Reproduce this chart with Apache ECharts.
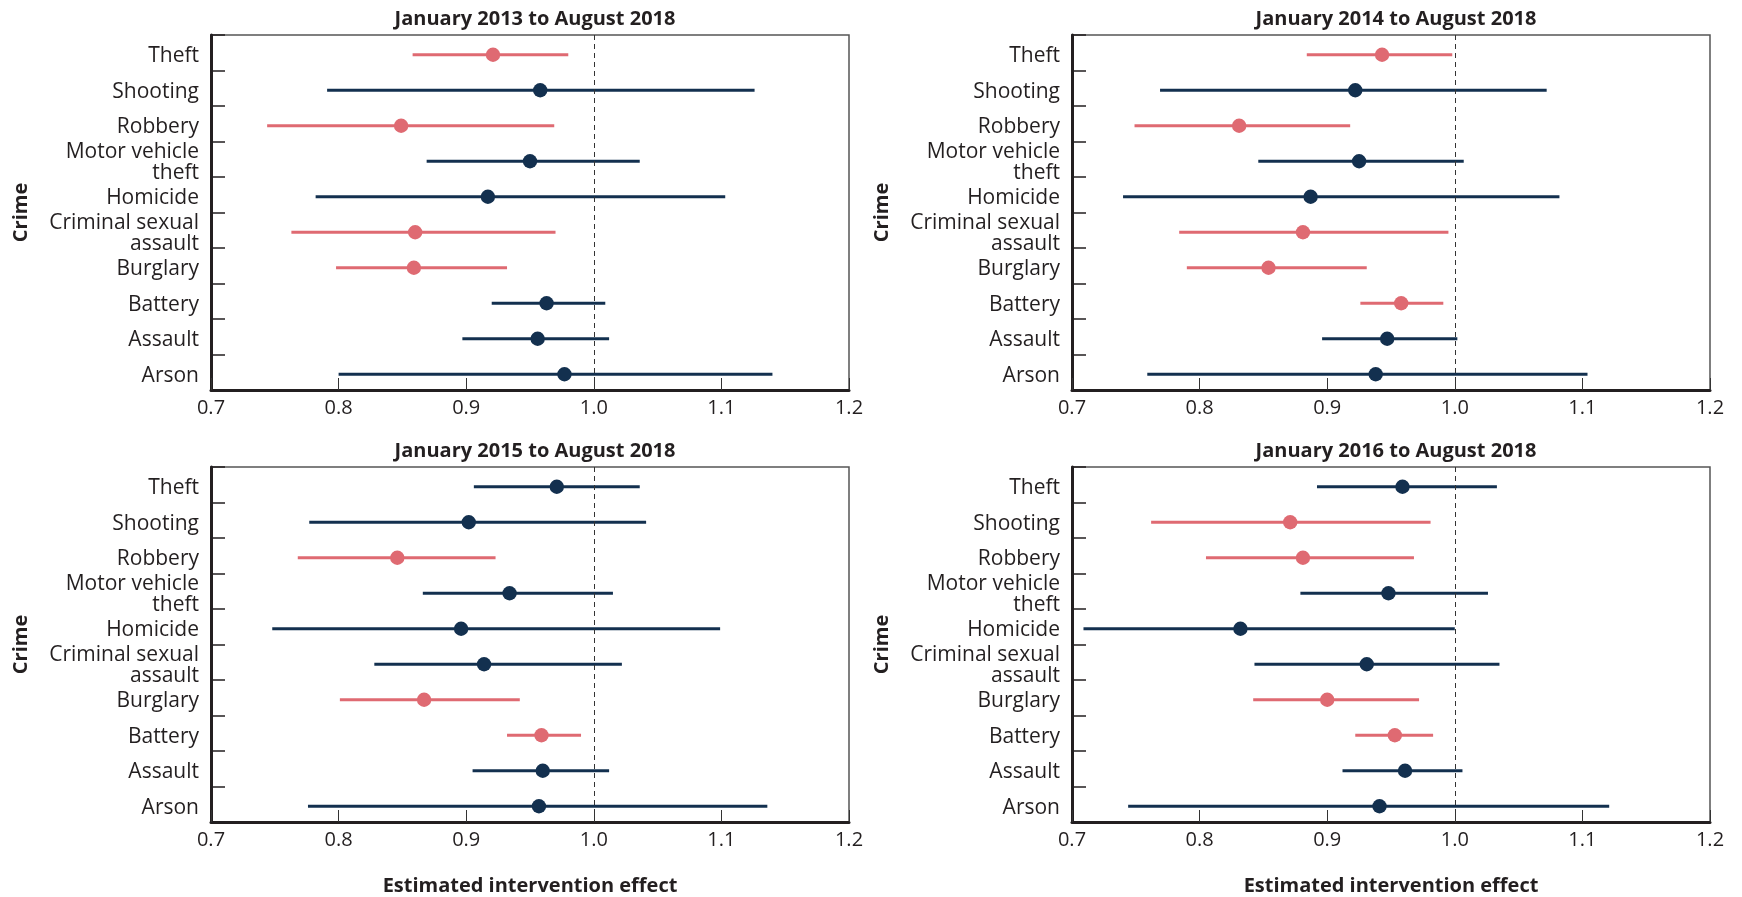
<!DOCTYPE html>
<html>
<head>
<meta charset="utf-8">
<script src="https://cdn.jsdelivr.net/npm/echarts@6/dist/echarts.min.js"></script>
<style>
html,body{margin:0;padding:0;background:#fff;}
#chart{width:1742px;height:897px;}
</style>
</head>
<body>
<div id="chart"></div>
<script>
// ---- Data ----
const categories = ['Theft','Shooting','Robbery','Motor vehicle\ntheft','Homicide','Criminal sexual\nassault','Burglary','Battery','Assault','Arson'];
const panelTitles = ['January 2013 to August 2018','January 2014 to August 2018','January 2015 to August 2018','January 2016 to August 2018'];
const xTicks = [0.7, 0.8, 0.9, 1.0, 1.1, 1.2];

const est2013  = [0.921, 0.958, 0.849, 0.950, 0.917, 0.860, 0.859, 0.963, 0.956, 0.977];
const low2013  = [0.858, 0.791, 0.744, 0.869, 0.782, 0.763, 0.798, 0.920, 0.897, 0.800];
const high2013 = [0.980, 1.126, 0.969, 1.036, 1.103, 0.970, 0.932, 1.009, 1.012, 1.140];
const sig2013  = [1, 0, 1, 0, 0, 1, 1, 0, 0, 0];

const est2014  = [0.943, 0.922, 0.831, 0.925, 0.887, 0.881, 0.854, 0.958, 0.947, 0.938];
const low2014  = [0.884, 0.769, 0.749, 0.846, 0.740, 0.784, 0.790, 0.926, 0.896, 0.759];
const high2014 = [0.998, 1.072, 0.918, 1.007, 1.082, 0.995, 0.931, 0.991, 1.002, 1.104];
const sig2014  = [1, 0, 1, 0, 0, 1, 1, 1, 0, 0];

const est2015  = [0.971, 0.902, 0.846, 0.934, 0.896, 0.914, 0.867, 0.959, 0.960, 0.957];
const low2015  = [0.906, 0.777, 0.768, 0.866, 0.748, 0.828, 0.801, 0.932, 0.905, 0.776];
const high2015 = [1.036, 1.041, 0.923, 1.015, 1.099, 1.022, 0.942, 0.990, 1.012, 1.136];
const sig2015  = [0, 0, 1, 0, 0, 0, 1, 1, 0, 0];

const est2016  = [0.959, 0.871, 0.881, 0.948, 0.832, 0.931, 0.900, 0.953, 0.961, 0.941];
const low2016  = [0.892, 0.762, 0.805, 0.879, 0.709, 0.843, 0.842, 0.922, 0.912, 0.744];
const high2016 = [1.033, 0.981, 0.968, 1.026, 1.000, 1.035, 0.972, 0.983, 1.006, 1.121];
const sig2016  = [0, 1, 1, 0, 0, 0, 1, 1, 0, 0];

const panels = [
  {est: est2013, low: low2013, high: high2013, sig: sig2013},
  {est: est2014, low: low2014, high: high2014, sig: sig2014},
  {est: est2015, low: low2015, high: high2015, sig: sig2015},
  {est: est2016, low: low2016, high: high2016, sig: sig2016}
];

// ---- Styles ----
const PINK = '#df6a72';
const NAVY = '#13304f';
const TEXT = '#231f20';
const FONT = 'Open Sans';

const gridPos = [
  {left: 211, top: 35, width: 638, height: 355},
  {left: 1072, top: 35, width: 638, height: 355},
  {left: 211, top: 467, width: 638, height: 355},
  {left: 1072, top: 467, width: 638, height: 355}
];

const option = {
  animation: false,
  backgroundColor: '#fff',
  title: panelTitles.map((t, i) => ({
    text: t,
    left: gridPos[i].left + gridPos[i].width / 2,
    top: gridPos[i].top - 31,
    textAlign: 'center',
    textStyle: {fontFamily: FONT, fontWeight: 'bold', fontSize: 20, color: TEXT}
  })),
  grid: gridPos.map(g => Object.assign({show: true, borderColor: '#555', borderWidth: 1.5, backgroundColor: 'transparent'}, g)),
  xAxis: gridPos.map((g, i) => ({
    type: 'value',
    gridIndex: i,
    min: xTicks[0],
    max: xTicks[xTicks.length - 1],
    interval: 0.1,
    name: i >= 2 ? 'Estimated intervention effect' : '',
    nameLocation: 'middle',
    nameGap: 54,
    nameTextStyle: {fontFamily: FONT, fontWeight: 'bold', fontSize: 20, color: TEXT},
    axisLine: {show: true, lineStyle: {color: TEXT, width: 3}},
    axisTick: {show: true, inside: true, length: 12, lineStyle: {color: '#333', width: 1}},
    axisLabel: {fontFamily: FONT, fontSize: 20, color: TEXT, margin: 8, formatter: v => v.toFixed(1)},
    splitLine: {show: false}
  })),
  yAxis: gridPos.map((g, i) => ({
    type: 'category',
    gridIndex: i,
    data: categories,
    inverse: true,
    name: 'Crime',
    nameLocation: 'middle',
    nameRotate: 90,
    nameGap: 180,
    nameTextStyle: {fontFamily: FONT, fontWeight: 'bold', fontSize: 20, color: TEXT},
    axisLine: {show: true, lineStyle: {color: TEXT, width: 3}},
    axisTick: {show: true, inside: true, length: 14, lineStyle: {color: TEXT, width: 1.5}},
    axisLabel: {
      margin: 12,
      align: 'right',
      formatter: v => '{s|}\n' + v.split('\n').map(s => '{c|' + s + '}').join('\n'),
      rich: {
        c: {fontFamily: FONT, fontSize: 21, color: TEXT, lineHeight: 21, align: 'right'},
        s: {fontSize: 6, lineHeight: 7}
      }
    },
    splitLine: {show: false}
  })),
  series: panels.map((p, i) => ({
    type: 'custom',
    xAxisIndex: i,
    yAxisIndex: i,
    encode: {x: [1, 2, 3], y: 0},
    data: categories.map((c, k) => [k, p.low[k], p.est[k], p.high[k], p.sig[k]]),
    renderItem: function (params, api) {
      const k = api.value(0);
      const a = api.coord([api.value(1), k]);
      const e = api.coord([api.value(2), k]);
      const b = api.coord([api.value(3), k]);
      const color = api.value(4) ? PINK : NAVY;
      return {
        type: 'group',
        y: 2,
        children: [
          {type: 'line', shape: {x1: a[0], y1: a[1], x2: b[0], y2: b[1]}, style: {stroke: color, lineWidth: 3}},
          {type: 'circle', shape: {cx: e[0], cy: e[1], r: 7.2}, style: {fill: color}}
        ]
      };
    },
    markLine: {
      silent: true,
      symbol: 'none',
      label: {show: false},
      lineStyle: {type: [5, 4], color: '#333', width: 1},
      data: [{xAxis: 1.0}]
    },
    z: 3
  }))
};

const chart = echarts.init(document.getElementById('chart'), null, {renderer: 'canvas'});
chart.setOption(option);
</script>
</body>
</html>
